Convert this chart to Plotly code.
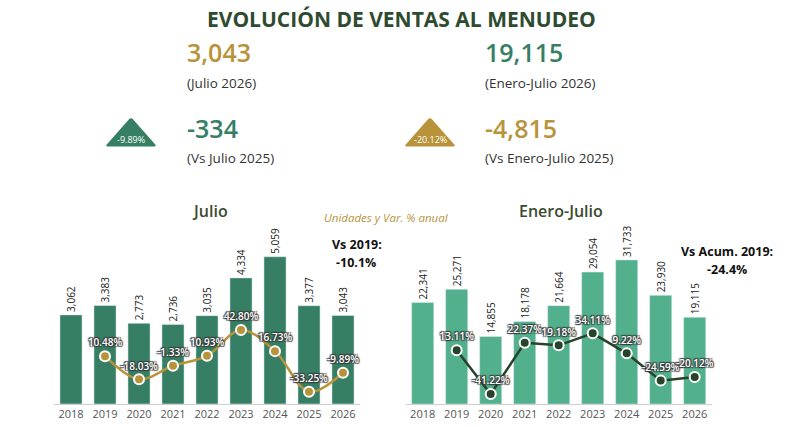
import plotly.graph_objects as go

years = ["2018", "2019", "2020", "2021", "2022", "2023", "2024", "2025", "2026"]
julio_units = [3062, 3383, 2773, 2736, 3035, 4334, 5059, 3377, 3043]
julio_pct = [None, 10.48, -18.03, -1.33, 10.93, 42.80, 16.73, -33.25, -9.89]
acum_units = [22341, 25271, 14855, 18178, 21664, 29054, 31733, 23930, 19115]
acum_pct = [None, 13.11, -41.22, 22.37, 19.18, 34.11, 9.22, -24.59, -20.12]

W, H = 811, 427
FONT = "Open Sans"
GOLD = "#b8933a"
TEAL = "#367f64"
LIGHT = "#52b08c"
DARK = "#27432a"
TITLE = "#2e4b2f"
SHADOW = "1px 1px 1px #3a3a3a, -1px -1px 1px #3a3a3a, 1px -1px 1px #3a3a3a, -1px 1px 1px #3a3a3a"


def px(x):
    return x / W


def py(y):
    return 1 - y / H


fig = go.Figure()

fig.add_trace(go.Bar(x=years, y=julio_units, marker_color=TEAL, xaxis="x", yaxis="y",
                     texttemplate="%{y:,.0f}", textposition="outside", textangle=-90,
                     constraintext="none", cliponaxis=False,
                     textfont=dict(size=10, color="#222", family=FONT), hoverinfo="skip"))
fig.add_trace(go.Scatter(x=years, y=julio_pct, xaxis="x", yaxis="y2", mode="lines+markers+text",
                         line=dict(color=GOLD, width=2.5, shape="spline"),
                         marker=dict(size=10, color=GOLD, line=dict(color="white", width=2)),
                         texttemplate="%{y:.2f}%", textposition="top center", cliponaxis=False,
                         textfont=dict(size=10, color="white", family=FONT, weight=600, shadow=SHADOW),
                         hoverinfo="skip"))
fig.add_trace(go.Bar(x=years, y=acum_units, marker_color=LIGHT, xaxis="x2", yaxis="y3",
                     texttemplate="%{y:,.0f}", textposition="outside", textangle=-90,
                     constraintext="none", cliponaxis=False,
                     textfont=dict(size=10, color="#222", family=FONT), hoverinfo="skip"))
fig.add_trace(go.Scatter(x=years, y=acum_pct, xaxis="x2", yaxis="y4", mode="lines+markers+text",
                         line=dict(color=DARK, width=2.5),
                         marker=dict(size=10, color=DARK, line=dict(color="white", width=2)),
                         texttemplate="%{y:.2f}%", textposition="top center", cliponaxis=False,
                         textfont=dict(size=10, color="white", family=FONT, weight=600, shadow=SHADOW),
                         hoverinfo="skip"))

ydom = [py(404), py(200)]
xcommon = dict(showline=True, linecolor="#cfcfcf", linewidth=1, ticks="", showgrid=False,
               range=[-0.5, 8.5], tickfont=dict(size=11, color="#555", family=FONT), fixedrange=True)
yhidden = dict(visible=False, showgrid=False, fixedrange=True)

fig.update_layout(
    width=W, height=H, margin=dict(l=0, r=0, t=0, b=0),
    paper_bgcolor="white", plot_bgcolor="white", showlegend=False,
    bargap=0.35, font=dict(family=FONT),
    xaxis=dict(domain=[px(54), px(360)], anchor="y", **xcommon),
    yaxis=dict(domain=ydom, range=[0, 7010], anchor="x", **yhidden),
    yaxis2=dict(range=[-48.46, 203.1], overlaying="y", anchor="x", **yhidden),
    xaxis2=dict(domain=[px(405.7), px(711.7)], anchor="y3", **xcommon),
    yaxis3=dict(domain=ydom, range=[0, 44934], anchor="x2", **yhidden),
    yaxis4=dict(range=[-53.6, 199.5], overlaying="y3", anchor="x2", **yhidden),
)


def ann(text, x, y, size, color, xanchor="left", weight=400, italic=False):
    if italic:
        text = "<i>" + text + "</i>"
    fig.add_annotation(text=text, x=px(x), y=py(y), xref="paper", yref="paper",
                       xanchor=xanchor, yanchor="middle", showarrow=False,
                       font=dict(size=size, color=color, family=FONT, weight=weight))


ann("EVOLUCIÓN DE VENTAS AL MENUDEO", 401, 18.5, 21, TITLE, "center", weight=700)
ann("3,043", 185, 52, 25, GOLD, weight=600)
ann("(Julio 2026)", 185, 83, 13.5, "#333")
ann("19,115", 483, 52, 25, TEAL, weight=600)
ann("(Enero-Julio 2026)", 483, 83, 13.5, "#333")
ann("-334", 185, 128, 25, TEAL, weight=600)
ann("(Vs Julio 2025)", 185, 158, 13.5, "#333")
ann("-4,815", 483, 128, 25, GOLD, weight=600)
ann("(Vs Enero-Julio 2025)", 483, 158, 13.5, "#333")

ann("Julio", 210, 211, 16, "#3b4a2e", "center", weight=600)
ann("Enero-Julio", 561, 211, 16, "#3b4a2e", "center", weight=600)
ann("Unidades y Var. % anual", 386, 217, 11.5, GOLD, "center", italic=True)
ann("Vs 2019:", 357, 244, 12.5, "#111", "center", weight=700)
ann("-10.1%", 356, 262, 12.5, "#111", "center", weight=700)
ann("Vs Acum. 2019:", 727, 251, 12.5, "#111", "center", weight=700)
ann("-24.4%", 727, 269, 12.5, "#111", "center", weight=700)


def tri_path(cx, top, bottom, half, r=3.0):
    pts = [(cx, top), (cx + half, bottom), (cx - half, bottom)]

    def toward(a, b, d):
        dx, dy = b[0] - a[0], b[1] - a[1]
        L = (dx * dx + dy * dy) ** 0.5
        return (a[0] + dx * d / L, a[1] + dy * d / L)

    d = ""
    n = len(pts)
    for i in range(n):
        p0, p1, p2 = pts[i - 1], pts[i], pts[(i + 1) % n]
        a = toward(p1, p0, r)
        b = toward(p1, p2, r)
        cmd = "M" if i == 0 else "L"
        d += f"{cmd} {px(a[0]):.5f},{py(a[1]):.5f} Q {px(p1[0]):.5f},{py(p1[1]):.5f} {px(b[0]):.5f},{py(b[1]):.5f} "
    return d + "Z"


for cx, color, label in [(131, TEAL, "-9.89%"), (430, GOLD, "-20.12%")]:
    fig.add_shape(type="path", path=tri_path(cx, 117, 146.5, 26), xref="paper", yref="paper",
                  fillcolor=color, line=dict(width=0), layer="below")
    fig.add_annotation(text=label, x=px(cx), y=py(139.5), xref="paper", yref="paper",
                       xanchor="center", yanchor="middle", showarrow=False,
                       font=dict(size=9, color="white", family=FONT))

fig.write_html("out.html", config={"displayModeBar": False},
               post_script="document.body.style.margin='0';")
